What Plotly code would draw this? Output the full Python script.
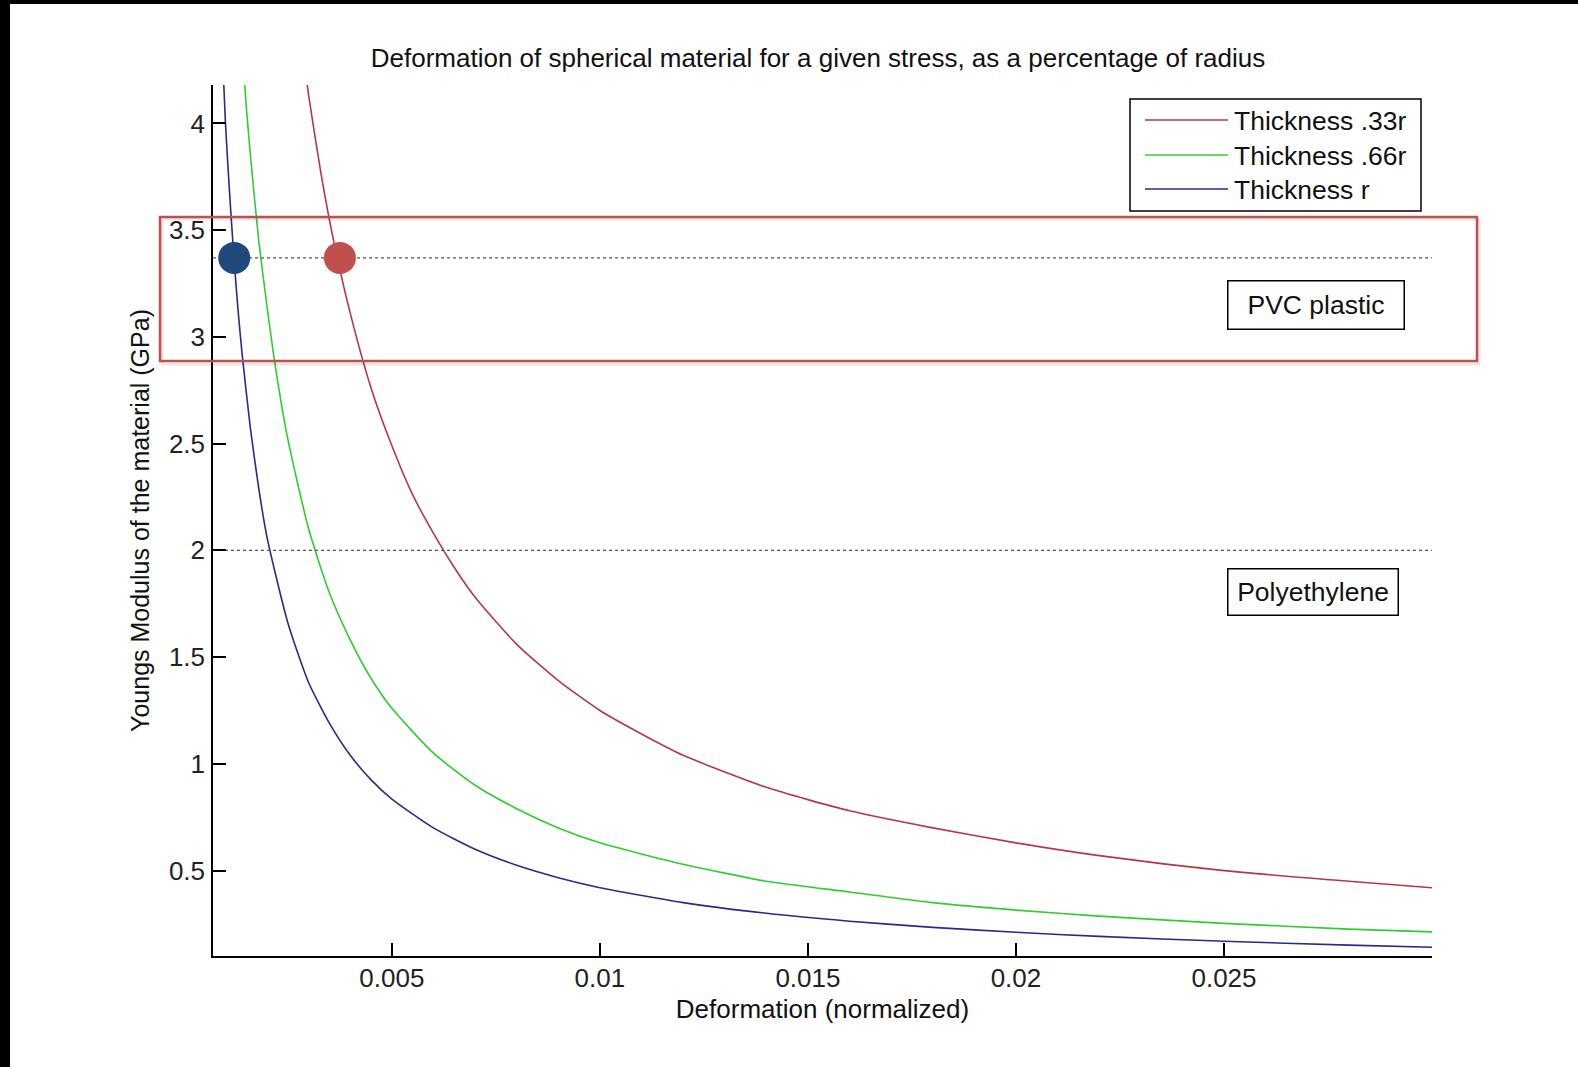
import plotly.graph_objects as go

# ---------------- data ----------------
title_text = "Deformation of spherical material for a given stress, as a percentage of radius"
x_title = "Deformation (normalized)"
y_title = "Youngs Modulus of the material (GPa)"

series_names = ["Thickness .33r", "Thickness .66r", "Thickness r"]

red_x = [0.0028, 0.003, 0.0033, 0.0036, 0.004, 0.0045, 0.005, 0.0055, 0.006, 0.0065, 0.007, 0.008,
         0.009, 0.01, 0.011, 0.012, 0.014, 0.016, 0.018, 0.02, 0.022, 0.025, 0.028, 0.03]
red_y = [4.43, 4.13, 3.76, 3.45, 3.11, 2.76, 2.49, 2.26, 2.08, 1.92, 1.78, 1.56,
         1.39, 1.25, 1.14, 1.04, 0.89, 0.78, 0.70, 0.63, 0.57, 0.50, 0.45, 0.42]

green_x = [0.0014, 0.0015, 0.0016, 0.0018, 0.002, 0.0022, 0.0025, 0.003, 0.0035, 0.004, 0.0045,
           0.005, 0.006, 0.007, 0.008, 0.009, 0.01, 0.012, 0.014, 0.016, 0.018, 0.02, 0.022,
           0.025, 0.028, 0.03]
green_y = [4.35, 4.08, 3.85, 3.45, 3.14, 2.86, 2.52, 2.10, 1.80, 1.58, 1.40,
           1.26, 1.05, 0.90, 0.79, 0.70, 0.63, 0.53, 0.45, 0.40, 0.35, 0.315, 0.287,
           0.253, 0.226, 0.213]

blue_x = [0.0009, 0.001, 0.0011, 0.0012, 0.0013, 0.0014, 0.0016, 0.0018, 0.002, 0.0025, 0.003,
          0.0035, 0.004, 0.0045, 0.005, 0.006, 0.007, 0.008, 0.009, 0.01, 0.012, 0.014, 0.016,
          0.018, 0.02, 0.022, 0.025, 0.028, 0.03]
blue_y = [4.45, 4.00, 3.67, 3.38, 3.13, 2.92, 2.57, 2.29, 2.06, 1.66, 1.38,
          1.19, 1.04, 0.925, 0.835, 0.70, 0.60, 0.525, 0.467, 0.42, 0.35, 0.30, 0.263,
          0.234, 0.211, 0.192, 0.169, 0.151, 0.141]

materials = ["PVC plastic", "Polyethylene"]
material_modulus = [3.37, 2.0]

highlight_x = [0.00121, 0.00375]
highlight_y = [3.37, 3.37]

x_tickvals = [0.005, 0.01, 0.015, 0.02, 0.025]
x_ticktext = ["0.005", "0.01", "0.015", "0.02", "0.025"]
y_tickvals = [0.5, 1, 1.5, 2, 2.5, 3, 3.5, 4]
y_ticktext = ["0.5", "1", "1.5", "2", "2.5", "3", "3.5", "4"]

x_range = [0.0007, 0.03]
y_range = [0.1, 4.18]

# ---------------- styling ----------------
W, H = 1578, 1067
PL, PR, PT, PB = 213, 1432, 85, 956  # plot area in pixels
FONT = "Liberation Sans, Arial, sans-serif"
line_colors = ["#B23A48", "#30CC30", "#2A2A8A"]
dot_colors = ["#1F497D", "#C0504D"]


def px(xp):
    return (xp - PL) / (PR - PL)


def py(yp):
    return (PB - yp) / (PB - PT)


fig = go.Figure()

for xs, ys, name, col in zip([red_x, green_x, blue_x], [red_y, green_y, blue_y],
                             series_names, line_colors):
    fig.add_trace(go.Scatter(x=xs, y=ys, mode="lines", name=name,
                             line=dict(color=col, width=1.6, shape="spline", smoothing=0.6),
                             showlegend=False))

for m in material_modulus:
    fig.add_trace(go.Scatter(x=x_range, y=[m, m], mode="lines", showlegend=False,
                             line=dict(color="#555555", width=1.2, dash="dot")))

fig.add_trace(go.Scatter(x=highlight_x, y=highlight_y, mode="markers", showlegend=False,
                         marker=dict(size=32, color=dot_colors, line=dict(width=0)),
                         cliponaxis=False))

shapes = []
# black frame strips of the screenshot
shapes.append(dict(type="rect", xref="paper", yref="paper", x0=px(0), x1=px(10),
                   y0=py(H), y1=py(0), fillcolor="black", line=dict(width=0), layer="above"))
shapes.append(dict(type="rect", xref="paper", yref="paper", x0=px(0), x1=px(W),
                   y0=py(4), y1=py(0), fillcolor="black", line=dict(width=0), layer="above"))
# red highlight rectangle (with faint shadow)
shapes.append(dict(type="rect", xref="paper", yref="paper", x0=px(162), x1=px(1479),
                   y0=py(364), y1=py(219), line=dict(color="rgba(0,0,0,0.10)", width=3),
                   layer="above"))
shapes.append(dict(type="rect", xref="paper", yref="paper", x0=px(160), x1=px(1477),
                   y0=py(361), y1=py(217), line=dict(color="#C0504D", width=2.5),
                   layer="above"))
# legend box
shapes.append(dict(type="rect", xref="paper", yref="paper", x0=px(1130), x1=px(1421),
                   y0=py(211), y1=py(99), fillcolor="white", line=dict(color="black", width=1.5),
                   layer="above"))
legend_rows = [120, 155, 189]
annotations = []
for row, name, col in zip(legend_rows, series_names, line_colors):
    shapes.append(dict(type="line", xref="paper", yref="paper", x0=px(1145), x1=px(1228),
                       y0=py(row), y1=py(row), line=dict(color=col, width=1.6), layer="above"))
    annotations.append(dict(xref="paper", yref="paper", x=px(1232), y=py(row + 1),
                            xanchor="left", yanchor="middle", text=name, showarrow=False,
                            font=dict(family=FONT, size=26.5, color="#111111")))

# material label boxes
box_px = [(1227, 1404, 280, 329), (1227, 1398, 568, 615)]
for (x0, x1, y0, y1), label in zip(box_px, materials):
    annotations.append(dict(xref="paper", yref="paper", x=px(x0), y=py(y0),
                            xanchor="left", yanchor="top", text=label, showarrow=False,
                            align="center", width=(x1 - x0) - 12, height=(y1 - y0) - 12,
                            valign="middle", borderpad=5, bordercolor="black", borderwidth=1.5,
                            bgcolor="white",
                            font=dict(family=FONT, size=26.5, color="#111111")))

fig.update_layout(
    width=W, height=H,
    margin=dict(l=PL, r=W - PR, t=PT, b=H - PB, pad=0),
    paper_bgcolor="white", plot_bgcolor="white",
    font=dict(family=FONT, size=26, color="#222222"),
    title=dict(text=title_text, x=(818 - PL) / (PR - PL), xref="paper", xanchor="center",
               y=1 - 58 / H, yref="container", yanchor="middle",
               font=dict(family=FONT, size=26, color="#111111")),
    xaxis=dict(range=x_range, tickvals=x_tickvals, ticktext=x_ticktext,
               showgrid=False, zeroline=False, showline=True, linecolor="black", linewidth=1.5,
               ticks="inside", ticklen=13, tickwidth=1.5, tickcolor="black",
               ticklabelstandoff=-2, mirror=False,
               tickfont=dict(family=FONT, size=26, color="#222222"),
               title=dict(text=x_title, standoff=8,
                          font=dict(family=FONT, size=26, color="#111111"))),
    yaxis=dict(range=y_range, tickvals=y_tickvals, ticktext=y_ticktext,
               showgrid=False, zeroline=False, showline=True, linecolor="black", linewidth=1.5,
               ticks="inside", ticklen=13, tickwidth=1.5, tickcolor="black",
               ticklabelstandoff=1, mirror=False,
               tickfont=dict(family=FONT, size=26, color="#222222"),
               title=dict(text=y_title, standoff=12,
                          font=dict(family=FONT, size=25, color="#111111"))),
    shapes=shapes,
    annotations=annotations,
    showlegend=False,
)

fig.write_html("out.html", config={"displayModeBar": False},
               post_script="document.body.style.margin='0';document.body.style.overflow='hidden';")
